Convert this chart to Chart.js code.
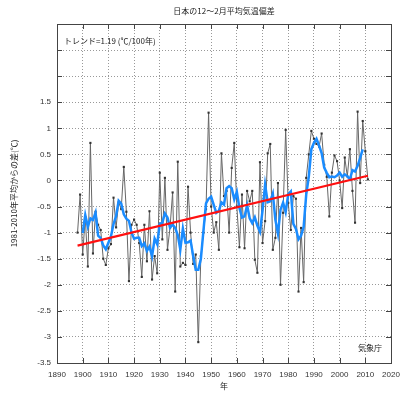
<!DOCTYPE html>
<html>
<head>
<meta charset="utf-8">
<script src="https://cdn.jsdelivr.net/npm/chart.js@4"></script>
<style>
  html, body { margin: 0; padding: 0; background: #fff; }
  #wrap { width: 419px; height: 397px; }
</style>
</head>
<body>
<div id="wrap"><canvas id="chart" width="419" height="397"></canvas></div>
<script>
// winter (Dec-Feb) mean temperature anomaly, Japan, vs 1981-2010 normal
var firstYear = 1898;
var anomalies = [
  -1.0, -0.27, -1.42, -0.7, -1.65, 0.72, -1.4, -0.6, -0.85, -0.95,   // 1898-1907
  -1.5, -1.62, -1.3, -1.22, -0.33, -0.9, -0.42, -0.55, 0.26, -0.6,   // 1908-1917
  -1.93, -0.85, -0.75, -0.85, -1.2, -1.85, -0.85, -1.55, -0.59, -1.9, // 1918-1927
  -1.45, -1.78, 0.15, -1.13, 0.05, -1.33, -0.9, -0.23, -2.13, 0.36,  // 1928-1937
  -1.65, -1.58, -1.62, -0.12, -1.0, -1.6, -1.42, -3.1, -1.45, -1.0,  // 1938-1947
  -0.55, 1.3, -0.5, -1.0, -0.8, -1.33, 0.52, -0.3, -0.2, -1.0,       // 1948-1957
  0.24, 0.72, -0.5, -1.28, -0.27, -1.3, -0.2, -0.4, -0.2, -1.52,     // 1958-1967
  -1.77, 0.35, -1.2, -0.78, 0.52, 0.7, -1.33, -1.1, -0.05, -2.0,     // 1968-1977
  -0.62, 0.97, -0.43, -0.95, -0.3, -0.35, -2.13, -0.91, -1.95, 0.05, // 1978-1987
  0.5, 0.95, 0.8, 0.7, 0.65, 0.9, 0.3, 0.07, -0.69, 0.15,            // 1988-1997
  0.48, 0.37, 0.0, -0.53, 0.44, 0.08, 0.6, -0.2, -0.81, 1.32,        // 1998-2007
  -0.05, 1.14, 0.56, 0.02                                            // 2008-2011
];
// trend line end points
var trendYears = [1898, 2011];
var trendValues = [-1.25, 0.09];
var xTicks = [1890, 2020, 10];
var yTicks = [-3.5, 3, 0.5];

var years = anomalies.map(function(v, i) { return firstYear + i; });

// 5-year centred running mean
var runMean = [];
for (var i = 2; i < anomalies.length - 2; i++) {
  var s = 0;
  for (var k = -2; k <= 2; k++) s += anomalies[i + k];
  runMean.push({ x: years[i], y: s / 5 });
}

var rawPoints = years.map(function(y, i) { return { x: y, y: anomalies[i] }; });
var trendPoints = trendYears.map(function(y, i) { return { x: y, y: trendValues[i] }; });

var FONT = "'Liberation Sans', 'Noto Sans CJK JP', sans-serif";
var CJK = "'Noto Sans CJK JP', 'Liberation Sans', sans-serif";

var framePlugin = {
  id: 'frame',
  afterDatasetsDraw: function(chart) {
    var ctx = chart.ctx, a = chart.chartArea;
    var xs = chart.scales.x, ys = chart.scales.y;
    ctx.save();
    ctx.strokeStyle = '#444';
    ctx.lineWidth = 1;
    ctx.strokeRect(a.left + 0.5, a.top + 0.5, a.right - a.left, a.bottom - a.top);
    ctx.beginPath();
    for (var v = xTicks[0]; v <= xTicks[1]; v += xTicks[2]) {
      var px = Math.round(xs.getPixelForValue(v)) + 0.5;
      ctx.moveTo(px, a.bottom); ctx.lineTo(px, a.bottom - 5);
      ctx.moveTo(px, a.top); ctx.lineTo(px, a.top + 5);
    }
    for (var w = yTicks[0]; w <= yTicks[1] + 1e-9; w += yTicks[2]) {
      var py = Math.round(ys.getPixelForValue(w)) + 0.5;
      ctx.moveTo(a.left, py); ctx.lineTo(a.left + 5, py);
      ctx.moveTo(a.right, py); ctx.lineTo(a.right - 5, py);
    }
    ctx.stroke();

    ctx.fillStyle = '#222';
    ctx.textBaseline = 'middle';
    ctx.font = '8px ' + CJK;
    ctx.textAlign = 'center';
    ctx.fillText('日本の12〜2月平均気温偏差', (a.left + a.right) / 2, 11);
    ctx.fillText('年', (a.left + a.right) / 2, 386);
    ctx.textAlign = 'left';
    ctx.fillText('トレンド=1.19 (℃/100年)', a.left + 7, 41);
    ctx.fillText('気象庁', 358, 348);
    ctx.translate(14, (a.top + a.bottom) / 2);
    ctx.rotate(-Math.PI / 2);
    ctx.textAlign = 'center';
    ctx.fillText('1981-2010年平均からの差(℃)', 0, 0);
    ctx.restore();
  }
};

new Chart(document.getElementById('chart'), {
  type: 'line',
  data: {
    datasets: [
      {
        label: 'trend',
        data: trendPoints,
        borderColor: '#ff1010',
        borderWidth: 2.2,
        pointRadius: 0
      },
      {
        label: '5-year mean',
        data: runMean,
        borderColor: '#1a8cff',
        borderWidth: 2.5,
        pointRadius: 0
      },
      {
        label: 'annual',
        data: rawPoints,
        borderColor: '#666',
        borderWidth: 1,
        pointStyle: 'rect',
        pointRadius: 1.5,
        pointBackgroundColor: '#333',
        pointBorderColor: '#333',
        pointBorderWidth: 0
      }
    ]
  },
  options: {
    responsive: false,
    animation: false,
    layout: { padding: { left: 0, top: 24, right: 28, bottom: 0 } },
    plugins: { legend: { display: false }, tooltip: { enabled: false } },
    scales: {
      x: {
        type: 'linear',
        min: xTicks[0], max: xTicks[1],
        border: { display: false, dash: [1, 2] },
        grid: { color: '#999', drawTicks: false },
        ticks: { stepSize: xTicks[2], padding: 7, color: '#333', font: { family: FONT, size: 8 },
          callback: function(v) { return String(v); } },
        afterFit: function(s) { s.height = 34; }
      },
      y: {
        min: yTicks[0], max: yTicks[1],
        border: { display: false, dash: [1, 2] },
        grid: { color: '#999', drawTicks: false },
        ticks: { stepSize: yTicks[2], padding: 6, color: '#333', font: { family: FONT, size: 8 },
          callback: function(v) { return v > 1.5 ? '' : String(v); } },
        afterFit: function(s) { s.width = 57; }
      }
    }
  },
  plugins: [framePlugin]
});
</script>
</body>
</html>
